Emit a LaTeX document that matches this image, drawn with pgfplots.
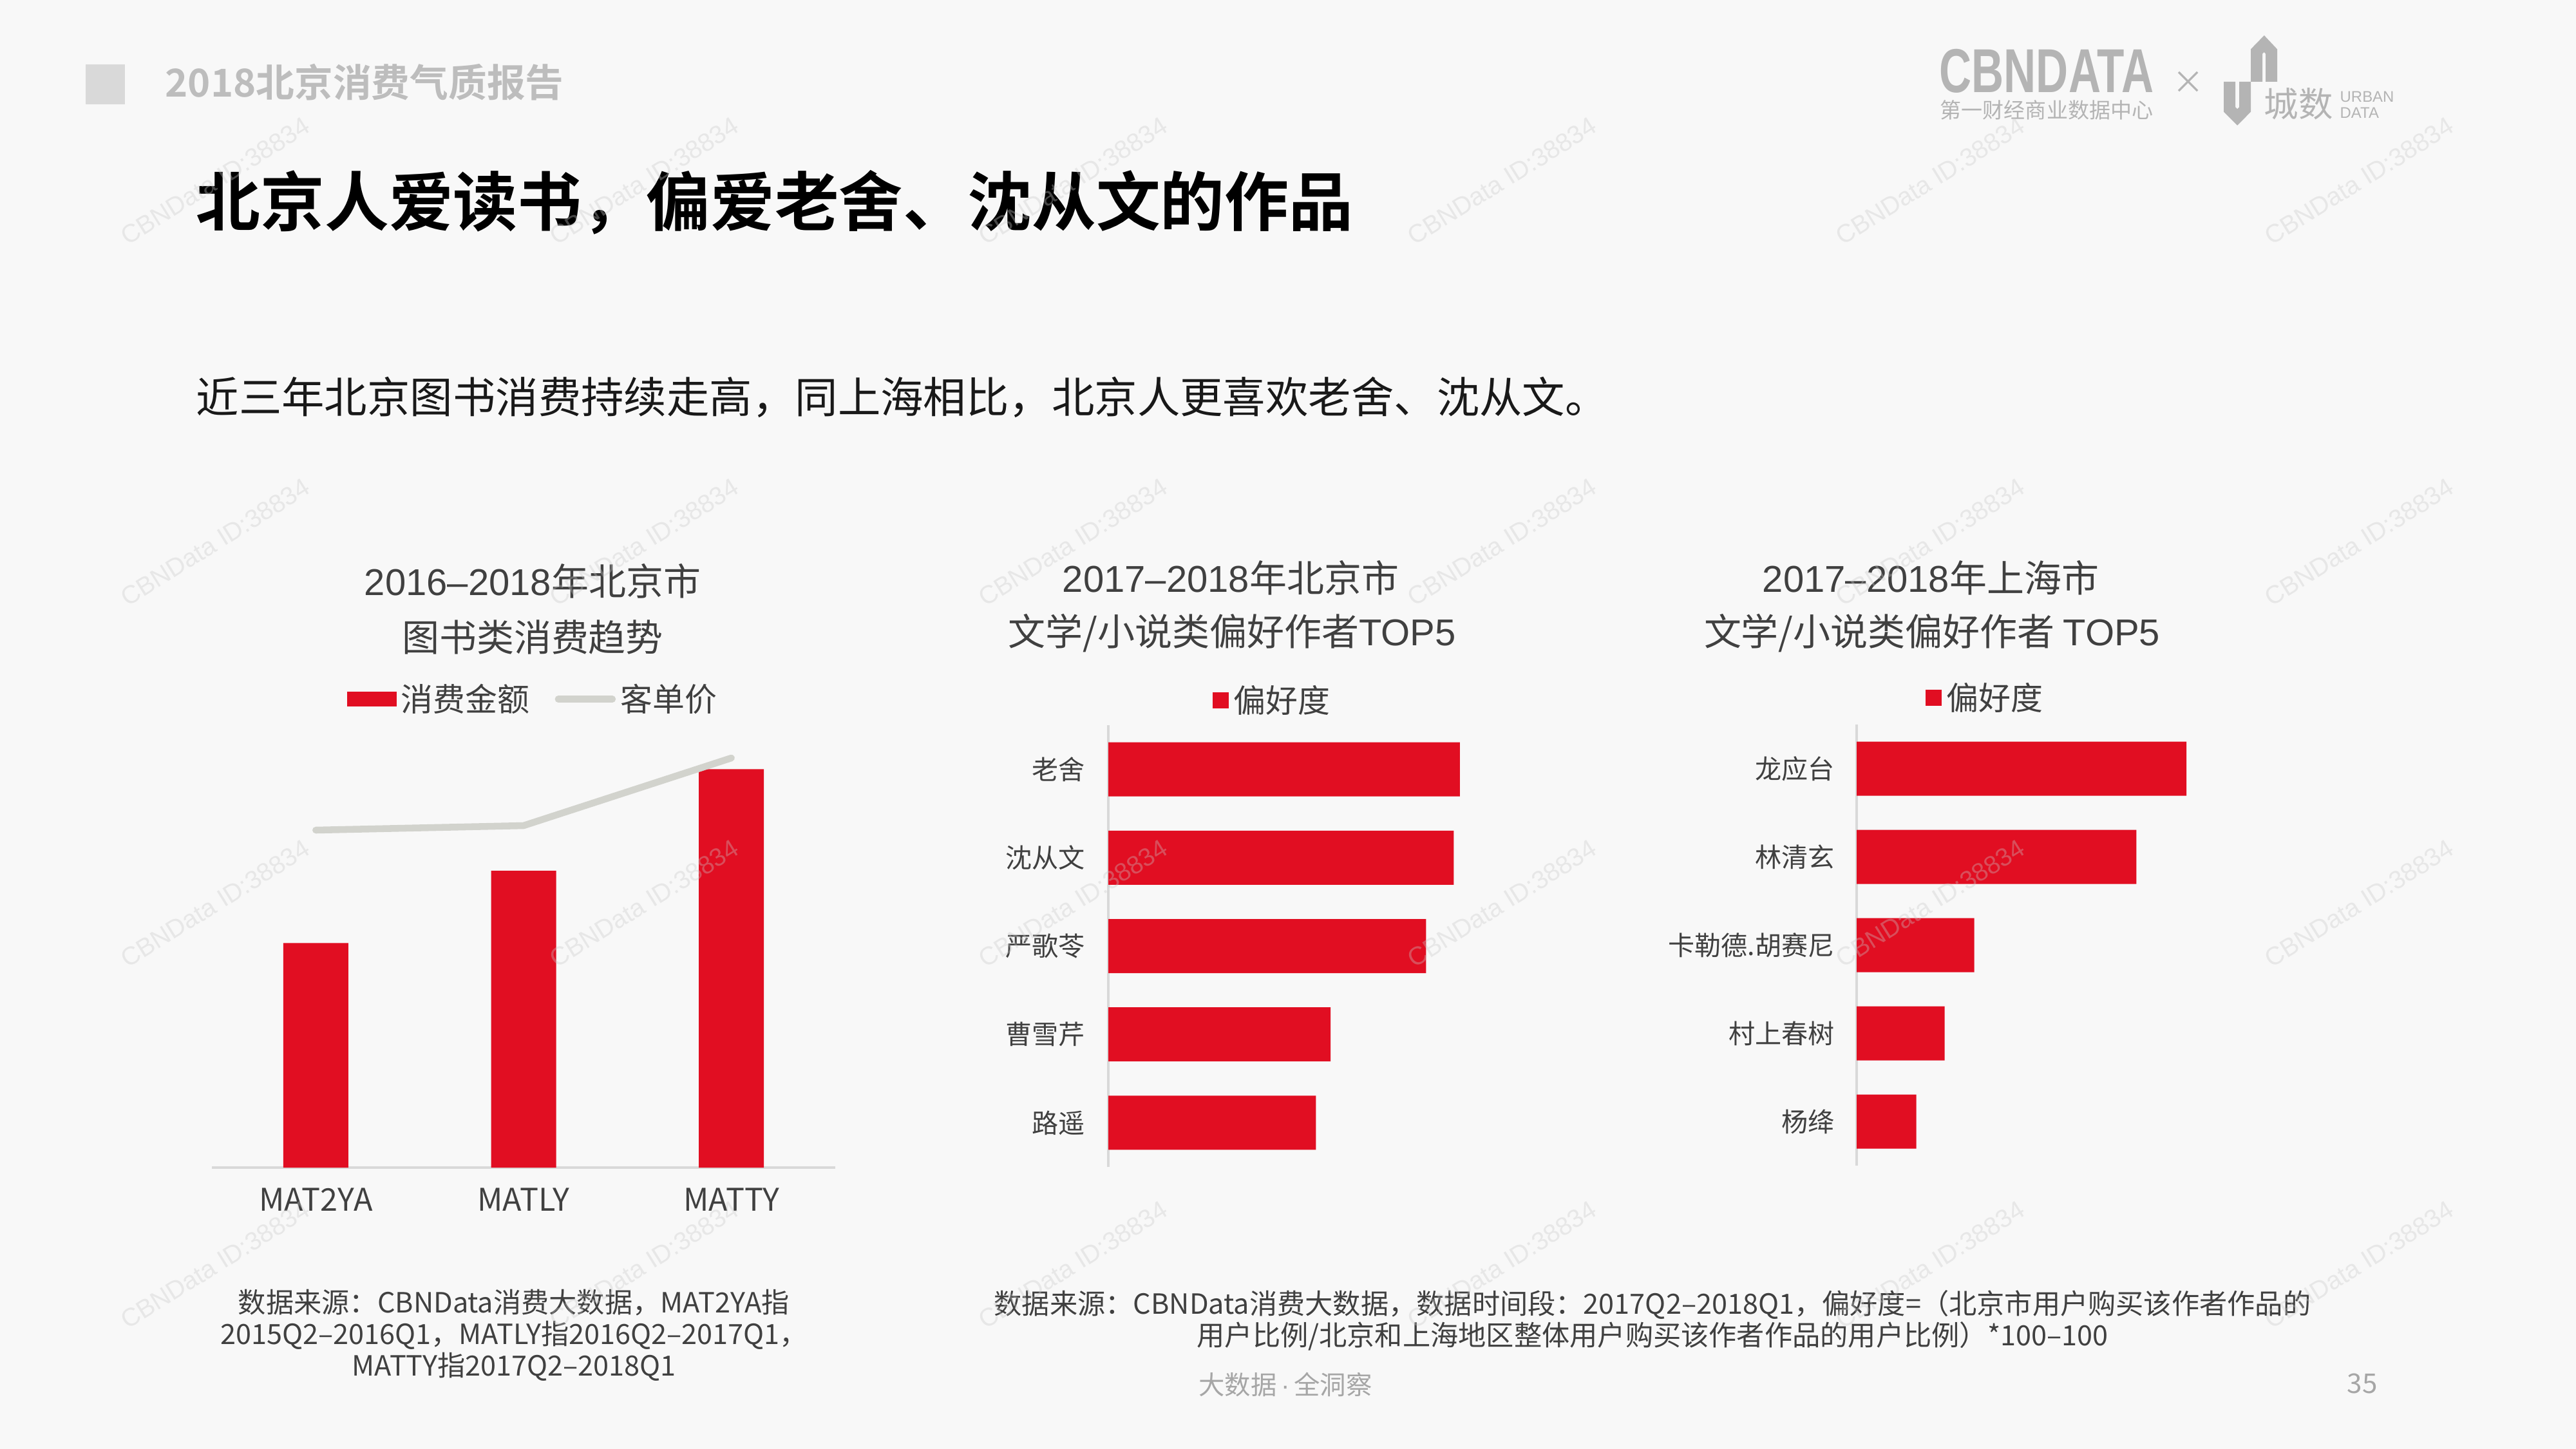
\documentclass[border=0pt]{standalone}
\usepackage{pgfplots}
\pgfplotsset{compat=1.18}
\usepackage{fontspec}
\setmainfont{Noto Sans CJK SC}[BoldFont={Noto Sans CJK SC Bold}]
\newfontfamily\wmfont{Liberation Sans}
\definecolor{cbred}{HTML}{E10E22}
\definecolor{bgcol}{HTML}{F8F8F8}
\definecolor{axisgrey}{HTML}{D9D9D9}
\definecolor{linegrey}{HTML}{D2D3CD}
\definecolor{txtdark}{HTML}{404040}
\definecolor{headgrey}{HTML}{D9D9D9}
\definecolor{headtxt}{HTML}{BDBDBD}
\definecolor{logogrey}{HTML}{B4B4B4}
\definecolor{wmgrey}{HTML}{C8C8C8}
\definecolor{footgrey}{HTML}{A6A6A6}
\begin{document}
\begin{tikzpicture}
\useasboundingbox (0,0) rectangle (40,-22.5);
\fill[bgcol] (0,0) rectangle (40,-22.5);
% header
\fill[headgrey] (1.33,-1.00) rectangle (1.94,-1.62);
\node[anchor=west, inner sep=0, text=headtxt, font=\bfseries\fontsize{17}{19}\selectfont] at (2.56,-1.28) {2018北京消费气质报告};
\node[anchor=west, inner sep=0, text=black, font=\bfseries\fontsize{28.4}{31}\selectfont] at (3.04,-3.14) {北京人爱读书，偏爱老舍、沈从文的作品};
\node[anchor=west, inner sep=0, text=black!90, font=\fontsize{18.9}{21}\selectfont] at (3.04,-6.17) {近三年北京图书消费持续走高，同上海相比，北京人更喜欢老舍、沈从文。};
% logos
\node[inner sep=0, text=logogrey, xscale=0.72, font=\wmfont\bfseries\fontsize{27.4}{29}\selectfont] at (31.78,-1.10) {CBNDATA};
\node[inner sep=0, text=logogrey, font=\fontsize{9.4}{10}\selectfont] at (31.78,-1.71) {第一财经商业数据中心};
\node[inner sep=0, text=logogrey, font=\fontsize{14}{15}\selectfont] at (33.98,-1.28) {×};
\draw[logogrey, line width=0.18cm, line join=miter] (34.62,-1.27) -- (34.62,-1.70) -- (34.74,-1.82) -- (34.86,-1.70) -- (34.86,-1.27);
\draw[logogrey, line width=0.18cm, line join=miter] (35.04,-1.27) -- (35.04,-0.80) -- (35.157,-0.68) -- (35.27,-0.80) -- (35.27,-1.27);
\node[inner sep=0, text=logogrey, font=\fontsize{15.2}{16}\selectfont] at (35.69,-1.61) {城数};
\node[anchor=west, inner sep=0, text=logogrey, font=\wmfont\fontsize{6.8}{7}\selectfont] at (36.33,-1.50) {URBAN};
\node[anchor=west, inner sep=0, text=logogrey, font=\wmfont\fontsize{6.8}{7}\selectfont] at (36.33,-1.75) {DATA};
% chart titles
\begin{scope}[every node/.style={inner sep=0, text=txtdark, font=\fontsize{16.5}{18}\selectfont}]
\node at (8.27,-9.02) {{\wmfont 2016–2018}年北京市};
\node at (8.27,-9.89) {图书类消费趋势};
\node at (19.11,-8.97) {{\wmfont 2017–2018}年北京市};
\node at (19.13,-9.83) {文学/小说类偏好作者{\wmfont TOP5}};
\node at (29.98,-8.97) {{\wmfont 2017–2018}年上海市};
\node at (30.00,-9.83) {文学/小说类偏好作者 {\wmfont TOP5}};
\end{scope}
% chart 1
\begin{axis}[
  at={(3.29cm,-18.13cm)}, anchor=south west,
  scale only axis, width=9.68cm, height=7cm,
  xmin=-0.5, xmax=2.5, ymin=0, ymax=700,
  hide y axis, axis x line*=bottom,
  x axis line style={draw=axisgrey, line width=1.2pt},
  xtick={0,1,2}, xticklabels={MAT2YA,MATLY,MATTY},
  major tick length=0,
  xticklabel style={font=\fontsize{13.8}{15}\selectfont, text=txtdark, yshift=-5.5pt},
  legend style={draw=none, fill=none, at={(0.517,1.039)}, anchor=center,
    font=\fontsize{14.2}{16}\selectfont, text=txtdark,
    /tikz/every even column/.append style={column sep=0.32cm}},
  legend columns=2,
  clip=false,
]
\addplot[ybar, bar width=1.01cm, fill=cbred, draw=none,
  legend image code/.code={\fill[cbred] (0cm,-0.115cm) rectangle (0.77cm,0.115cm);}]
  coordinates {(0,348.6) (1,460.9) (2,618.7)};
\addlegendentry{消费金额}
\addplot[color=linegrey, line width=3pt, line cap=round, line join=round, mark=none,
  legend image code/.code={\draw[linegrey, line width=3pt, line cap=round] (0cm,0cm) -- (0.84cm,0cm);}]
  coordinates {(0,524) (1,531) (2,636)};
\addlegendentry{客单价}
\end{axis}
% chart 2
\begin{axis}[
  at={(17.21cm,-18.12cm)}, anchor=south west,
  scale only axis, width=6cm, height=6.86cm,
  xmin=0, xmax=600, ymin=-0.5, ymax=4.5,
  hide x axis, axis y line*=left,
  y axis line style={draw=axisgrey, line width=1.1pt},
  ytick={0,1,2,3,4}, yticklabels={路遥,曹雪芹,严歌苓,沈从文,老舍},
  major tick length=0,
  yticklabel style={font=\fontsize{11.7}{13}\selectfont, text=txtdark, xshift=-0.24cm},
  legend style={draw=none, fill=none, at={(0.428,1.0554)}, anchor=center,
    font=\fontsize{14.2}{16}\selectfont, text=txtdark},
  clip=false,
]
\addplot[xbar, bar width=0.84cm, fill=cbred, draw=none,
  legend image code/.code={\fill[cbred] (0cm,-0.125cm) rectangle (0.25cm,0.125cm);}]
  coordinates {(322.3,0) (345.2,1) (493.3,2) (536.4,3) (546.0,4)};
\addlegendentry{偏好度}
\end{axis}
% chart 3
\begin{axis}[
  at={(28.83cm,-18.10cm)}, anchor=south west,
  scale only axis, width=6cm, height=6.85cm,
  xmin=0, xmax=600, ymin=-0.5, ymax=4.5,
  hide x axis, axis y line*=left,
  y axis line style={draw=axisgrey, line width=1.1pt},
  ytick={0,1,2,3,4}, yticklabels={杨绛,村上春树,卡勒德.胡赛尼,林清玄,龙应台},
  major tick length=0,
  yticklabel style={font=\fontsize{11.7}{13}\selectfont, text=txtdark, xshift=-0.22cm},
  legend style={draw=none, fill=none, at={(0.336,1.06)}, anchor=center,
    font=\fontsize{14.2}{16}\selectfont, text=txtdark},
  clip=false,
]
\addplot[xbar, bar width=0.84cm, fill=cbred, draw=none,
  legend image code/.code={\fill[cbred] (0cm,-0.125cm) rectangle (0.25cm,0.125cm);}]
  coordinates {(92.6,0) (136.6,1) (182.5,2) (434.4,3) (512.0,4)};
\addlegendentry{偏好度}
\end{axis}
% footnotes
\node[align=center, inner sep=0, text=txtdark, font=\fontsize{12.3}{13.9}\selectfont] at (7.98,-20.73) {数据来源：CBNData消费大数据，MAT2YA指\\2015Q2–2016Q1，MATLY指2016Q2–2017Q1，\\MATTY指2017Q2–2018Q1};
\node[align=center, inner sep=0, text=txtdark, font=\fontsize{12.3}{13.9}\selectfont] at (25.66,-20.50) {数据来源：CBNData消费大数据，数据时间段：2017Q2–2018Q1，偏好度=（北京市用户购买该作者作品的\\用户比例/北京和上海地区整体用户购买该作者作品的用户比例）*100–100};
\node[inner sep=0, text=footgrey, font=\fontsize{11.5}{12}\selectfont] at (19.96,-21.50) {大数据\,{\wmfont·}\,全洞察};
\node[inner sep=0, text=footgrey, font=\fontsize{12}{13}\selectfont] at (36.68,-21.48) {35};
% watermarks
\foreach \x in {3.34,10.00,16.66,23.32,29.97,36.63} {
  \foreach \y in {-2.81,-8.42,-14.03,-19.64} {
    \node[rotate=32, text=wmgrey, opacity=0.35, inner sep=0, font=\wmfont\fontsize{11.2}{12}\selectfont] at (\x,\y) {CBNData ID:38834};
  }
}
\end{tikzpicture}
\end{document}
